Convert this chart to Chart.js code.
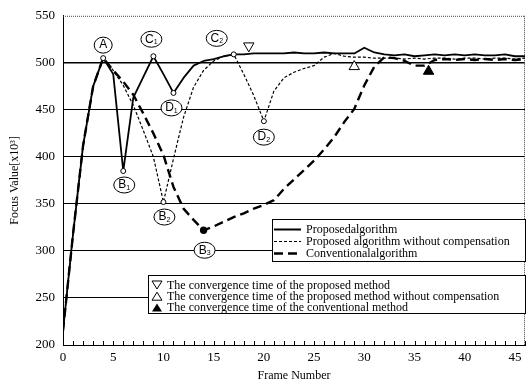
<!DOCTYPE html>
<html><head><meta charset="utf-8">
<script src="https://cdn.jsdelivr.net/npm/chart.js@4/dist/chart.umd.min.js"></script>
<style>html,body{margin:0;padding:0;background:#fff}</style>
</head><body>
<canvas id="c" width="532" height="384"></canvas>
<script>
// ---------- DATA ----------
const frames = [0,1,2,3,4,5,6,7,8,9,10,11,12,13,14,15,16,17,18,19,20,21,22,23,24,25,26,27,28,29,30,31,32,33,34,35,36,37,38,39,40,41,42,43,44,45,46];
const proposed = [215,318,412,475,505,488,385,463,485,507,488,468,484,497,502,504,507,509,509,510,510,510,510,511,510,510,511,510,510,510,516,511,509,508,509,507,508,509,508,509,508,509,508,508,509,507,507];
const noComp   = [215,318,412,475,505,492,476,455,428,400,352,398,442,474,492,502,507,509,488,465,438,470,484,490,494,497,506,510,507,506,506,505,505,505,504,505,504,505,505,504,505,505,504,505,505,504,505];
const conventional = [215,318,412,475,505,492,480,466,446,425,402,368,345,333,322,326,331,336,340,345,349,354,366,376,386,396,408,421,437,451,476,496,506,505,502,497,497,503,504,503,504,503,504,503,504,503,504];
const proposedKeys = [4,6,9,11,17];
const noCompKeys = [10,20];
const convKeys = [14];
const seriesNames = ['Proposedalgorithm','Proposed algorithm without compensation','Conventionalalgorithm'];
const convTimeFrame = [18.5, 29, 36.4];
const convTimeValue = [518, 496, 491];
const convTimeNames = ['The convergence time of the proposed method','The convergence time of the proposed method without compensation','The convergence time of the conventional method'];
const annMain  = ['A','B','C','D','C','D','B','B'];
const annSub   = ['','1','1','1','2','2','2','3'];
const annFrame = [4,6,9,11,17,20,10,14];
const annValue = [505,385,507,468,509,438,352,322];
const yTicks = [200,250,300,350,400,450,500,550];

// ---------- STYLE ----------
const annDx = [0,1,-2,-2,-17,0,1,1];
const annDy = [-13,14,-17,15,-16,16,15,20];
const SERIF = '"Liberation Serif", "Times New Roman", serif';
const SANS = '"Liberation Sans", Arial, sans-serif';

function pts(vals){ return frames.map((f,i)=>({x:f,y:vals[i]})); }
function keyRadius(keys, r){ return ctx => keys.includes(frames[ctx.dataIndex]) ? r : 0; }

const decor = {
  id:'decor',
  beforeDatasetsDraw(chart){
    const {ctx, chartArea:a, scales:{x}} = chart;
    ctx.save();
    ctx.strokeStyle = '#444'; ctx.lineWidth = 1; ctx.setLineDash([1,1]);
    ctx.beginPath();
    ctx.moveTo(a.left, a.top+0.5); ctx.lineTo(a.right, a.top+0.5);
    ctx.moveTo(a.right-0.5, a.top); ctx.lineTo(a.right-0.5, a.bottom);
    ctx.stroke();
    ctx.setLineDash([]);
    ctx.strokeStyle = '#000'; ctx.lineWidth = 1;
    ctx.beginPath();
    frames.forEach(f=>{ if(f===0) return; const px = Math.round(x.getPixelForValue(f))+0.5; ctx.moveTo(px,a.bottom); ctx.lineTo(px,a.bottom-4); });
    ctx.stroke();
    ctx.restore();
  },
  afterDatasetsDraw(chart){
    const {ctx, scales:{x,y}} = chart;
    ctx.save();
    annMain.forEach((m,i)=>{
      const cx = x.getPixelForValue(annFrame[i]) + annDx[i];
      const cy = y.getPixelForValue(annValue[i]) + annDy[i];
      const rx = annSub[i] ? 10.5 : 9;
      ctx.beginPath(); ctx.ellipse(cx, cy, rx, 8, 0, 0, Math.PI*2);
      ctx.fillStyle = '#fff'; ctx.fill();
      ctx.strokeStyle = '#000'; ctx.lineWidth = 1; ctx.stroke();
      ctx.fillStyle = '#000'; ctx.textBaseline = 'middle';
      ctx.font = '12px ' + SANS;
      const w1 = ctx.measureText(m).width;
      ctx.font = '7px ' + SANS;
      const w2 = annSub[i] ? ctx.measureText(annSub[i]).width : 0;
      const sx = cx - (w1+w2)/2;
      ctx.font = '12px ' + SANS; ctx.textAlign = 'left';
      ctx.fillText(m, sx, cy);
      if (annSub[i]) { ctx.font = '7px ' + SANS; ctx.fillText(annSub[i], sx + w1, cy + 3); }
    });
    const L1 = {l:272, t:219, r:525, b:261};
    ctx.fillStyle = '#fff'; ctx.fillRect(L1.l, L1.t, L1.r-L1.l, L1.b-L1.t);
    ctx.strokeStyle = '#000'; ctx.lineWidth = 1; ctx.setLineDash([]);
    ctx.strokeRect(L1.l+0.5, L1.t+0.5, L1.r-L1.l, L1.b-L1.t);
    const dashes = [[],[3,2],[9,5]]; const widths = [2,1.2,2.4];
    ctx.font = '12px ' + SERIF; ctx.textAlign = 'left'; ctx.textBaseline = 'middle';
    seriesNames.forEach((n,i)=>{
      const ry = 229.5 + i*12;
      ctx.beginPath(); ctx.setLineDash(dashes[i]); ctx.lineWidth = widths[i];
      ctx.moveTo(274, ry); ctx.lineTo(301, ry); ctx.stroke();
      ctx.setLineDash([]);
      ctx.fillStyle = '#000'; ctx.fillText(n, 306, ry+0.5);
    });
    const L2 = {l:148, t:275, r:525, b:313};
    ctx.fillStyle = '#fff'; ctx.fillRect(L2.l, L2.t, L2.r-L2.l, L2.b-L2.t);
    ctx.lineWidth = 1; ctx.strokeStyle = '#000';
    ctx.strokeRect(L2.l+0.5, L2.t+0.5, L2.r-L2.l, L2.b-L2.t);
    convTimeNames.forEach((n,i)=>{
      const ry = 285 + i*11.2; const sx = 157;
      ctx.beginPath();
      if (i===0){ ctx.moveTo(sx-5, ry-4); ctx.lineTo(sx+5, ry-4); ctx.lineTo(sx, ry+4); }
      else { ctx.moveTo(sx-5, ry+4); ctx.lineTo(sx+5, ry+4); ctx.lineTo(sx, ry-4); }
      ctx.closePath();
      if (i===2){ ctx.fillStyle='#000'; ctx.fill(); } else { ctx.stroke(); }
      ctx.fillStyle = '#000'; ctx.font = '12px ' + SERIF;
      ctx.fillText(n, 167, ry+0.5);
    });
    ctx.restore();
  }
};

new Chart(document.getElementById('c'), {
  type:'line',
  data:{ datasets:[
    {label:seriesNames[0], data:pts(proposed), borderColor:'#000', borderWidth:1.8, pointRadius:keyRadius(proposedKeys,2.5), pointBackgroundColor:'#fff', pointBorderColor:'#000', pointBorderWidth:1, tension:0},
    {label:seriesNames[1], data:pts(noComp), borderColor:'#000', borderWidth:1.2, borderDash:[3,2], pointRadius:keyRadius(noCompKeys,2.5), pointBackgroundColor:'#fff', pointBorderColor:'#000', pointBorderWidth:1, tension:0},
    {label:seriesNames[2], data:pts(conventional), borderColor:'#000', borderWidth:2.4, borderDash:[9,5], pointRadius:keyRadius(convKeys,2.5), pointBackgroundColor:'#000', pointBorderColor:'#000', tension:0},
    {type:'scatter', label:convTimeNames[0], data:[{x:convTimeFrame[0],y:convTimeValue[0]}], pointStyle:'triangle', rotation:180, pointRadius:6, pointBackgroundColor:'#fff', pointBorderColor:'#000', pointBorderWidth:1},
    {type:'scatter', label:convTimeNames[1], data:[{x:convTimeFrame[1],y:convTimeValue[1]}], pointStyle:'triangle', pointRadius:6, pointBackgroundColor:'#fff', pointBorderColor:'#000', pointBorderWidth:1},
    {type:'scatter', label:convTimeNames[2], data:[{x:convTimeFrame[2],y:convTimeValue[2]}], pointStyle:'triangle', pointRadius:6, pointBackgroundColor:'#000', pointBorderColor:'#000', pointBorderWidth:1}
  ]},
  options:{
    responsive:false, animation:false, devicePixelRatio:1,
    layout:{padding:{left:0, right:5, top:10, bottom:0}},
    plugins:{legend:{display:false}, tooltip:{enabled:false}},
    elements:{line:{borderJoinStyle:'round'}},
    scales:{
      x:{type:'linear', min:0, max:46,
        afterFit(s){ s.height = 39; },
        grid:{display:false, drawTicks:false},
        border:{display:true, color:'#000', width:1},
        ticks:{stepSize:1, autoSkip:false, maxRotation:0, padding:5, color:'#000', font:{family:SERIF, size:13},
          callback:v => (v%5===0 ? String(v) : '')},
        title:{display:true, text:'Frame Number', color:'#000', font:{family:SERIF, size:12}, padding:{top:0,bottom:1}}
      },
      y:{min:200, max:550,
        afterFit(s){ s.width = 63; },
        afterBuildTicks(s){ s.ticks = yTicks.map(v=>({value:v})); },
        grid:{drawTicks:false, color:c => (c.tick && c.tick.value===550) ? 'rgba(0,0,0,0)' : '#000', lineWidth:c => (c.tick && c.tick.value===500) ? 1.6 : 1},
        border:{display:true, color:'#000', width:1},
        ticks:{padding:8, color:'#000', font:{family:SERIF, size:13}},
        title:{display:true, text:'Focus Value[x10³]', color:'#000', font:{family:SERIF, size:12}, padding:{top:8,bottom:0}}
      }
    }
  },
  plugins:[decor]
});
</script>
</body></html>
